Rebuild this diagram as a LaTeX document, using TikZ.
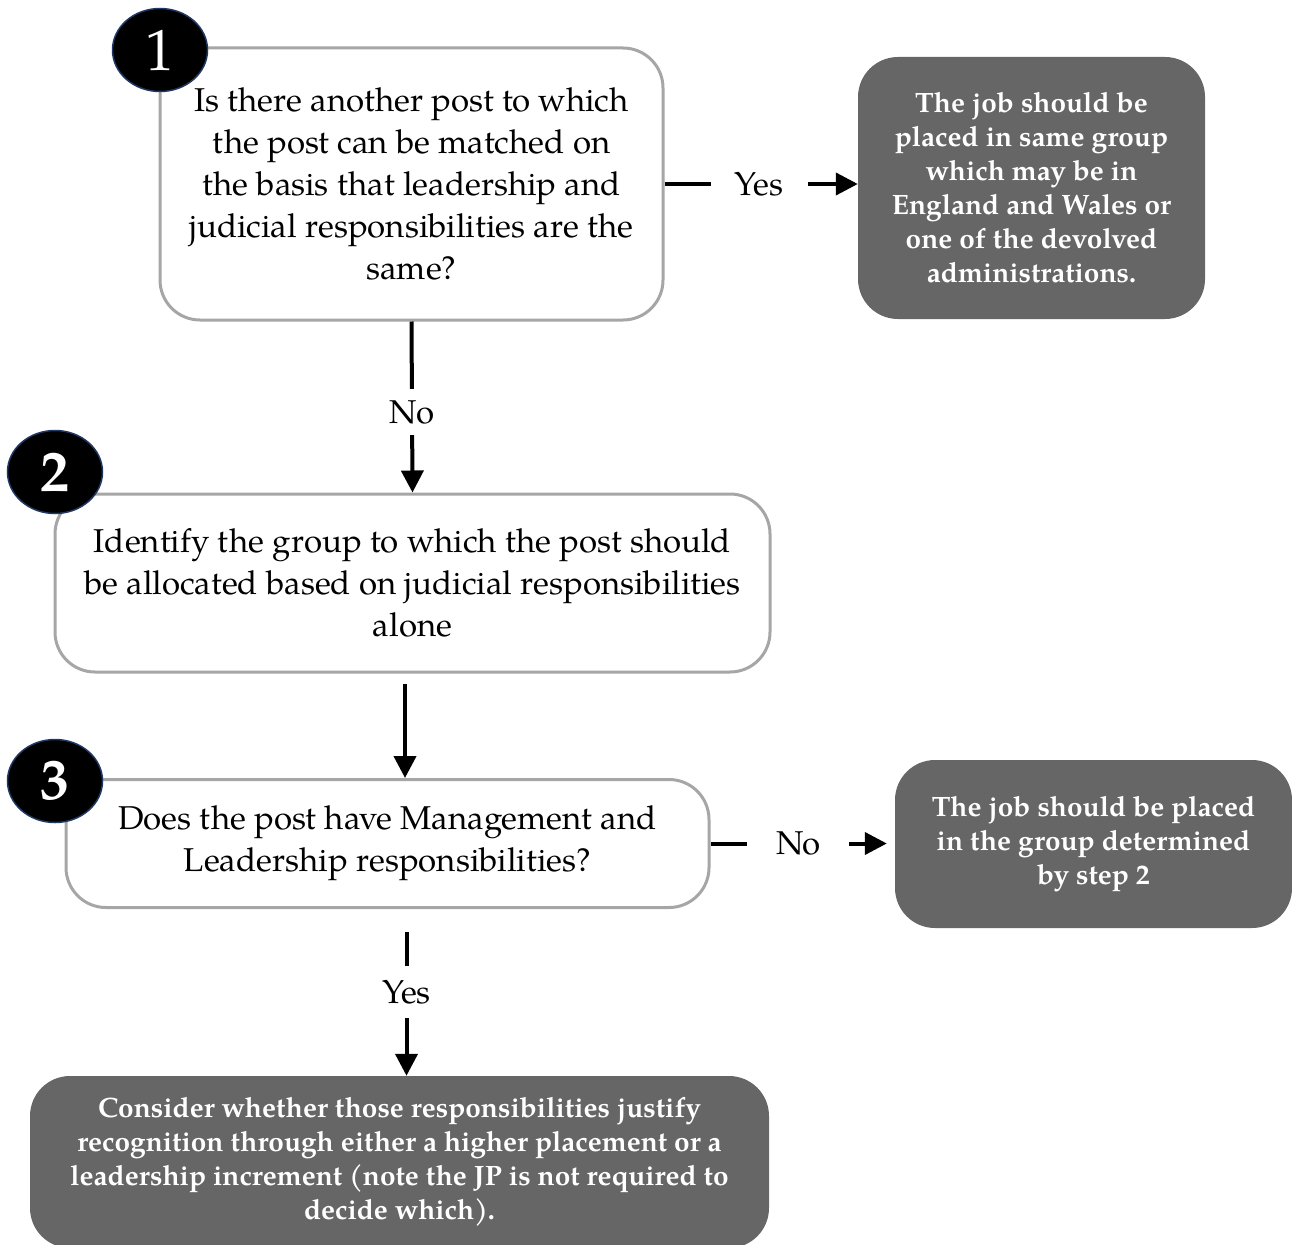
\documentclass[tikz,border=0pt]{standalone}
\usepackage{fontspec}
\setmainfont{TeX Gyre Pagella}
\usepackage{tikz}
\usetikzlibrary{arrows.meta, shapes.geometric}
\usepackage{xcolor}
\definecolor{gris}{HTML}{A6A6A6}
\definecolor{fonce}{HTML}{666666}
\definecolor{bleunuit}{HTML}{1F3864}
\tikzset{
    question/.style={draw=gris, line width=3pt, rounded corners=40pt, fill=white, align=center, inner sep=0pt, font=\fontsize{33}{42}\selectfont},
    reponse/.style={fill=fonce, rounded corners=40pt, align=center, text=white, inner sep=0pt, font=\bfseries\fontsize{28}{34}\selectfont},
    numero/.style={ellipse, fill=black, draw=bleunuit, line width=1.5pt, text=white, minimum width=95pt, minimum height=83pt, inner sep=0pt, font=\fontsize{58}{58}\selectfont},
    fleche/.style={-{Triangle[length=22pt, width=22pt]}, line width=4pt},
    etiquette/.style={fill=white, inner xsep=24pt, inner ysep=10pt, font=\fontsize{33}{40}\selectfont},
}

\begin{document}
\begin{tikzpicture}[x=1pt, y=-1pt]
\useasboundingbox (0,0) rectangle (1292,1244);
% Etape 1
\node[question, minimum width=503pt, minimum height=272pt] (q1) at (411.5,184)
    {Is there another post to which\\ the post can be matched on\\ the basis that leadership and\\ judicial responsibilities are the\\ same?};
\node[reponse, minimum width=347pt, minimum height=262pt] (r1) at (1031.5,188)
    {The job should  be\\ placed in same group\\ which may be in\\ England and Wales or\\ one of the devolved\\ administrations.};
% Etape 2
\node[question, minimum width=715pt, minimum height=178pt] (q2) at (412.5,583)
    {Identify the group to which the post should\\ be allocated based on judicial responsibilities\\ alone};
% Etape 3
\node[question, minimum width=643pt, minimum height=128pt] (q3) at (387.5,843.5)
    {Does the post have Management and\\ Leadership responsibilities?};
\node[reponse, minimum width=397pt, minimum height=168pt] (r3) at (1093.5,844)
    {The job should  be placed\\ in the group determined\\ by step 2};
\node[reponse, minimum width=739pt, minimum height=172pt] (c4) at (399.5,1162)
    {Consider whether those responsibilities justify\\ recognition through either a higher placement or a\\ leadership increment (note the JP is not required to\\ decide which).};
% Numeros
\node[numero] (n1) at (160,50) {1};
\node[numero, font=\bfseries\fontsize{58}{58}\selectfont] (n2) at (55,472) {2};
\node[numero, font=\bfseries\fontsize{58}{58}\selectfont] (n3) at (55,781) {3};
% Fleches
\draw[fleche] (q1.east) -- node[etiquette, pos=0.49] {Yes} (q1.east -| r1.west);
\draw[fleche] (q1.south) -- node[etiquette, pos=0.53, inner xsep=5pt, inner ysep=11pt] {No} (q2.north);
\draw[fleche, shorten <=10pt] ([xshift=17.5pt]q3.north |- q2.south) -- ([xshift=17.5pt]q3.north);
\draw[fleche, shorten >=8pt] (q3.east) -- node[etiquette, pos=0.476, inner xsep=29pt] {No} (q3.east -| r3.west);
\draw[fleche, shorten <=23pt] ([xshift=19pt]q3.south) -- node[etiquette, pos=0.5, inner xsep=5pt, inner ysep=14pt] {Yes} ([xshift=19pt]q3.south |- c4.north);
\end{tikzpicture}
\end{document}
